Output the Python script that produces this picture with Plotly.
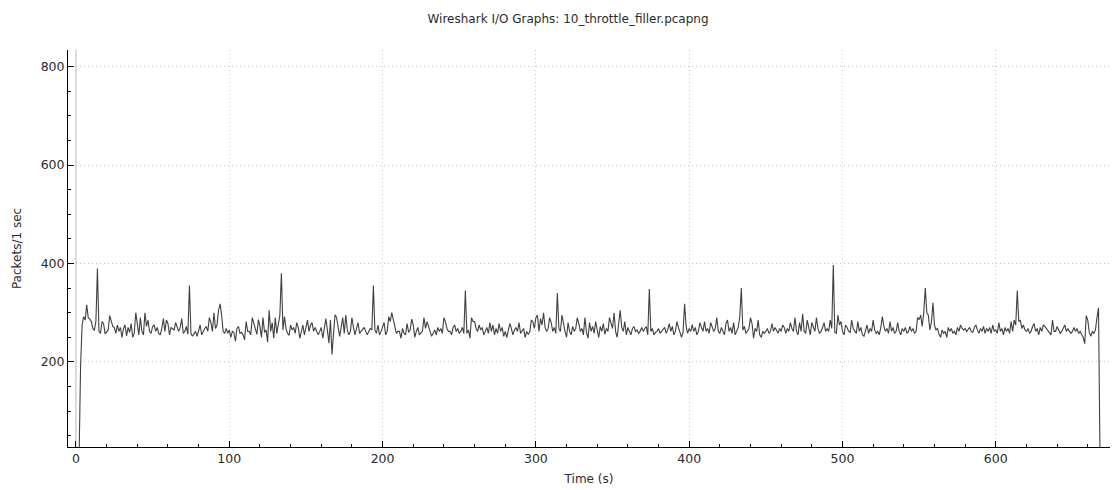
import plotly.graph_objects as go

title_text = "Wireshark I/O Graphs: 10_throttle_filler.pcapng"
x_title = "Time (s)"
y_title = "Packets/1 sec"

packets = [
    0, 0, 0, 190, 275, 292, 285, 316, 290, 287, 282, 268, 264, 282, 390, 262, 258, 282, 278, 257,
    262, 265, 294, 280, 272, 270, 258, 275, 262, 270, 250, 268, 275, 253, 270, 260, 278, 250, 258, 300,
    275, 255, 290, 262, 255, 300, 272, 285, 262, 258, 272, 275, 262, 270, 258, 255, 268, 288, 262, 285,
    278, 255, 270, 268, 265, 280, 272, 262, 270, 288, 258, 262, 272, 256, 355, 258, 252, 256, 262, 252,
    262, 275, 255, 262, 268, 272, 262, 290, 280, 262, 300, 268, 275, 305, 318, 295, 262, 258, 268, 258,
    265, 250, 262, 260, 242, 268, 272, 258, 260, 255, 245, 282, 262, 262, 255, 290, 278, 270, 256, 286,
    272, 250, 290, 260, 265, 240, 305, 262, 280, 248, 290, 258, 280, 295, 380, 265, 292, 268, 258, 254,
    275, 265, 270, 258, 280, 270, 248, 265, 275, 255, 272, 285, 262, 275, 280, 262, 270, 262, 255, 262,
    270, 248, 265, 288, 265, 238, 285, 215, 258, 296, 290, 265, 252, 270, 290, 258, 295, 265, 255, 262,
    290, 270, 255, 268, 280, 258, 262, 268, 270, 262, 255, 262, 268, 265, 355, 265, 258, 275, 255, 262,
    270, 280, 255, 262, 292, 282, 300, 285, 270, 258, 262, 262, 248, 268, 258, 255, 278, 260, 265, 287,
    275, 250, 262, 270, 255, 258, 262, 290, 268, 282, 270, 262, 252, 258, 265, 255, 270, 262, 268, 258,
    290, 282, 268, 262, 262, 255, 270, 275, 262, 268, 258, 262, 270, 258, 345, 258, 265, 248, 290, 282,
    282, 268, 262, 275, 265, 270, 255, 262, 270, 258, 280, 262, 275, 255, 268, 258, 278, 262, 270, 252,
    262, 250, 262, 278, 268, 255, 265, 270, 262, 280, 258, 262, 268, 250, 262, 256, 260, 285, 282, 268,
    290, 295, 262, 288, 275, 300, 270, 262, 268, 290, 280, 262, 270, 258, 340, 268, 262, 295, 275, 262,
    250, 280, 262, 255, 272, 262, 268, 290, 278, 262, 268, 255, 290, 260, 248, 280, 262, 272, 258, 282,
    265, 250, 272, 262, 278, 256, 268, 262, 290, 276, 268, 300, 262, 250, 285, 305, 270, 262, 282, 255,
    270, 262, 255, 268, 272, 262, 265, 258, 262, 270, 262, 268, 272, 255, 348, 262, 268, 255, 260, 262,
    268, 258, 262, 265, 270, 258, 265, 278, 262, 272, 255, 262, 282, 270, 262, 250, 260, 318, 272, 258,
    268, 262, 276, 262, 270, 255, 262, 280, 270, 262, 282, 262, 268, 258, 280, 270, 262, 268, 290, 262,
    258, 270, 262, 255, 278, 285, 262, 270, 258, 280, 255, 262, 270, 292, 350, 265, 272, 258, 262, 268,
    290, 278, 248, 268, 262, 285, 255, 250, 262, 258, 262, 268, 258, 262, 278, 262, 270, 265, 258, 268,
    262, 275, 270, 258, 268, 262, 280, 268, 262, 290, 262, 255, 280, 262, 298, 262, 258, 285, 272, 255,
    280, 270, 262, 290, 268, 258, 262, 270, 280, 262, 268, 262, 285, 268, 397, 260, 258, 295, 275, 282,
    262, 255, 275, 270, 262, 260, 285, 268, 262, 258, 282, 262, 270, 255, 252, 262, 275, 258, 268, 262,
    285, 265, 258, 262, 255, 270, 292, 272, 262, 268, 258, 282, 262, 270, 258, 262, 280, 262, 255, 268,
    262, 270, 258, 262, 272, 262, 268, 258, 262, 290, 286, 295, 272, 300, 350, 300, 295, 265, 280, 320,
    275, 265, 268, 256, 250, 265, 258, 262, 250, 270, 262, 268, 258, 262, 255, 270, 262, 275, 268, 265,
    268, 262, 265, 270, 262, 260, 270, 275, 265, 258, 268, 262, 272, 258, 268, 262, 270, 258, 275, 262,
    265, 258, 280, 262, 268, 255, 270, 262, 268, 258, 282, 262, 285, 275, 345, 282, 285, 268, 275, 265,
    262, 268, 258, 262, 272, 278, 262, 268, 255, 270, 262, 275, 272, 268, 262, 258, 255, 285, 262, 262,
    272, 265, 258, 262, 268, 275, 262, 268, 262, 258, 262, 270, 262, 268, 258, 262, 255, 250, 237, 294,
    285, 260, 252, 262, 258, 265, 290, 310, 0,
]
times = list(range(len(packets)))

x_ticks = [0, 100, 200, 300, 400, 500, 600]
y_ticks = [200, 400, 600, 800]

font_family = "DejaVu Sans"
text_color = "#2b2b2b"

fig = go.Figure()
fig.add_trace(go.Scatter(
    x=times, y=packets, mode="lines",
    line=dict(color="#404040", width=1.1),
    hoverinfo="x+y", showlegend=False,
))

# light marker line near t=0
fig.add_shape(type="line", xref="x", yref="paper", x0=0, x1=0, y0=0, y1=1,
              line=dict(color="#d4d4d4", width=1.5), layer="below")

fig.update_layout(
    width=1116, height=490,
    margin=dict(l=68, r=6, t=50, b=43),
    paper_bgcolor="white", plot_bgcolor="white",
    font=dict(family=font_family, size=12, color=text_color),
    title=dict(text=title_text, x=0.509, xanchor="center", y=0.962, yanchor="middle",
               font=dict(size=12, color=text_color)),
)

fig.update_xaxes(
    range=[-5.2, 674.5],
    tickvals=x_ticks, ticktext=[str(v) for v in x_ticks],
    ticks="inside", ticklen=6, tickcolor="black", tickwidth=1,
    minor=dict(ticks="inside", dtick=20, tick0=0, ticklen=3, tickcolor="black", showgrid=False),
    showline=True, linecolor="black", linewidth=1,
    showgrid=True, gridcolor="#c4c4c4", griddash="1px,3px", gridwidth=1,
    zeroline=False,
    title=dict(text=x_title, standoff=9, font=dict(size=12)),
    tickfont=dict(size=12.5),
)
fig.update_yaxes(
    range=[27, 834],
    tickvals=y_ticks, ticktext=[str(v) for v in y_ticks],
    ticks="inside", ticklen=6, tickcolor="black", tickwidth=1,
    minor=dict(ticks="inside", dtick=50, tick0=0, ticklen=3, tickcolor="black", showgrid=False),
    showline=True, linecolor="black", linewidth=1,
    showgrid=True, gridcolor="#c4c4c4", griddash="1px,3px", gridwidth=1,
    zeroline=False,
    title=dict(text=y_title, standoff=16, font=dict(size=12)),
    tickfont=dict(size=12.5),
)

fig.write_html("out.html")
